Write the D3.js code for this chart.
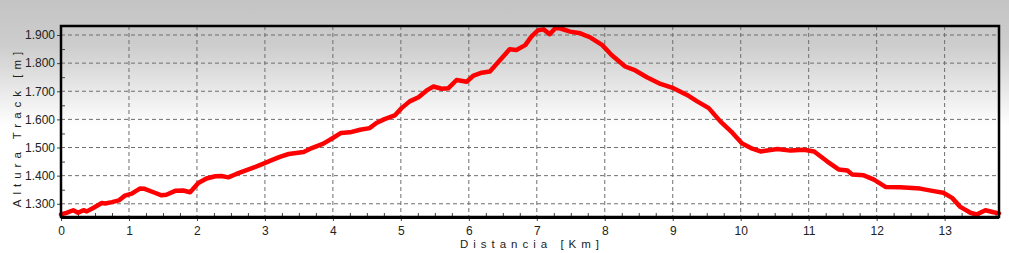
<!DOCTYPE html>
<html>
<head>
<meta charset="utf-8">
<script src="https://cdn.jsdelivr.net/npm/d3@7"></script>
<style>
  body { margin: 0; padding: 0; overflow: hidden; background: #fff; }
  text { font-family: "Liberation Sans", Arial, sans-serif; }
</style>
</head>
<body>
<div id="chart"></div>
<script>
var svgWidth = 1009;
var svgHeight = 253;

var margin = { top: 26, right: 10, bottom: 36, left: 61 };
var width = svgWidth - margin.left - margin.right;
var height = svgHeight - margin.top - margin.bottom;

// distance in km, altitude in m (read from the profile)
var distKm = [0, 0.08, 0.18, 0.25, 0.33, 0.38, 0.48, 0.6, 0.65, 0.75, 0.85, 0.94, 1.04, 1.16, 1.23,
  1.36, 1.48, 1.55, 1.68, 1.8, 1.9, 2.02, 2.14, 2.27, 2.36, 2.46, 2.58, 2.71, 2.85, 2.97, 3.1,
  3.22, 3.35, 3.57, 3.69, 3.86, 4.0, 4.12, 4.25, 4.4, 4.54, 4.64, 4.76, 4.91, 5.01, 5.13, 5.26,
  5.38, 5.48, 5.6, 5.7, 5.82, 5.97, 6.07, 6.19, 6.31, 6.46, 6.6, 6.7, 6.83, 6.92, 7.02, 7.1,
  7.19, 7.27, 7.34, 7.49, 7.64, 7.79, 7.96, 8.1, 8.3, 8.45, 8.62, 8.82, 9.01, 9.21, 9.36, 9.53,
  9.7, 9.88, 10.02, 10.15, 10.29, 10.54, 10.73, 10.93, 11.08, 11.27, 11.44, 11.57, 11.64, 11.81,
  11.96, 12.13, 12.35, 12.64, 12.84, 12.98, 13.11, 13.23, 13.38, 13.47, 13.6, 13.72, 13.8];
var altM = [1262, 1268, 1277, 1268, 1277, 1273, 1286, 1303, 1301, 1306, 1312, 1329, 1336, 1354, 1353,
  1341, 1330, 1332, 1346, 1347, 1341, 1374, 1390, 1398, 1399, 1394, 1406, 1418, 1430, 1442, 1455,
  1467, 1477, 1484, 1498, 1514, 1534, 1552, 1554, 1563, 1569, 1587, 1601, 1614, 1640, 1664, 1679,
  1703, 1717, 1709, 1711, 1740, 1734, 1756, 1766, 1770, 1811, 1849, 1847, 1864, 1894, 1917, 1920,
  1903, 1924, 1924, 1912, 1906, 1891, 1865, 1829, 1788, 1774, 1750, 1726, 1711, 1687, 1664, 1640,
  1593, 1552, 1514, 1498, 1486, 1495, 1489, 1492, 1486, 1451, 1422, 1418, 1404, 1401,
  1386, 1360, 1359, 1354, 1345, 1339, 1321, 1289, 1268, 1262, 1277, 1270, 1266];

var xTicks = [0, 1, 2, 3, 4, 5, 6, 7, 8, 9, 10, 11, 12, 13];
var yTicks = [1300, 1400, 1500, 1600, 1700, 1800, 1900];
var xTitle = "Distancia [Km]";
var yTitle = "Altura Track [m]";

var data = distKm.map(function(d, i) { return { km: d, alt: altM[i] }; });

var svg = d3.select("#chart")
  .append("svg")
  .attr("width", svgWidth)
  .attr("height", svgHeight);

var grad = svg.append("defs").append("linearGradient")
  .attr("id", "bg")
  .attr("x1", 0).attr("y1", 0).attr("x2", 0).attr("y2", 1);
grad.append("stop").attr("offset", "0%").attr("stop-color", "#c4c4c4");
grad.append("stop").attr("offset", "18%").attr("stop-color", "#cdcdcd");
grad.append("stop").attr("offset", "50%").attr("stop-color", "#ffffff");
grad.append("stop").attr("offset", "100%").attr("stop-color", "#ffffff");

svg.append("rect")
  .attr("width", svgWidth)
  .attr("height", svgHeight)
  .attr("fill", "url(#bg)");

var chartGroup = svg.append("g")
  .attr("transform", `translate(${margin.left}, ${margin.top})`);

var xLinearScale = d3.scaleLinear().domain([0, 13.8]).range([0, width]);
var yLinearScale = d3.scaleLinear().domain([1253, 1932]).range([height, 0]);

var locale = d3.formatLocale({ decimal: ",", thousands: ".", grouping: [3], currency: ["", ""] });
var fmt = locale.format(",d");

// grid
chartGroup.append("g")
  .selectAll("line")
  .data(xTicks.slice(1))
  .enter()
  .append("line")
  .attr("x1", d => xLinearScale(d)).attr("x2", d => xLinearScale(d))
  .attr("y1", 0).attr("y2", height)
  .attr("stroke", "#6e6e6e").attr("stroke-dasharray", "4,3");

chartGroup.append("g")
  .selectAll("line")
  .data(yTicks)
  .enter()
  .append("line")
  .attr("y1", d => yLinearScale(d)).attr("y2", d => yLinearScale(d))
  .attr("x1", 0).attr("x2", width)
  .attr("stroke", "#6e6e6e").attr("stroke-dasharray", "4,3");

// minor ticks inside the plot
var xMinor = d3.range(0, 13.8, 0.25).filter(d => d % 1 !== 0);
chartGroup.append("g")
  .attr("transform", `translate(0, ${height})`)
  .call(d3.axisBottom(xLinearScale).tickValues(xMinor).tickSize(-4).tickFormat(""))
  .call(g => g.select(".domain").remove())
  .call(g => g.selectAll("line").attr("stroke", "#444"));

var yMinor = d3.range(1300, 1932, 50).filter(d => d % 100 !== 0);
chartGroup.append("g")
  .call(d3.axisLeft(yLinearScale).tickValues(yMinor).tickSize(-4).tickFormat(""))
  .call(g => g.select(".domain").remove())
  .call(g => g.selectAll("line").attr("stroke", "#444"));

// major axes
var bottomAxis = d3.axisBottom(xLinearScale).tickValues(xTicks).tickSize(4).tickPadding(5).tickFormat(d3.format("d"));
var leftAxis = d3.axisLeft(yLinearScale).tickValues(yTicks).tickSize(4).tickPadding(2).tickFormat(fmt);

chartGroup.append("g")
  .attr("transform", `translate(0, ${height})`)
  .call(bottomAxis)
  .call(g => g.select(".domain").remove())
  .call(g => g.selectAll("line").attr("stroke", "#444"))
  .call(g => g.selectAll("text").attr("font-size", "12px").attr("fill", "#222")
    .style("font-family", "'Liberation Sans', Arial, sans-serif"));

chartGroup.append("g")
  .call(leftAxis)
  .call(g => g.select(".domain").remove())
  .call(g => g.selectAll("line").attr("stroke", "#444"))
  .call(g => g.selectAll("text").attr("font-size", "12px").attr("fill", "#222")
    .style("font-family", "'Liberation Sans', Arial, sans-serif"));

// profile line
var line = d3.line()
  .x(d => xLinearScale(d.km))
  .y(d => yLinearScale(d.alt));

chartGroup.append("path")
  .datum(data)
  .attr("d", line)
  .attr("fill", "none")
  .attr("stroke", "#ff0000")
  .attr("stroke-width", 4.5)
  .attr("stroke-linejoin", "round")
  .attr("stroke-linecap", "round");

// frame
chartGroup.append("rect")
  .attr("x", 0).attr("y", 0)
  .attr("width", width).attr("height", height)
  .attr("fill", "none")
  .attr("stroke", "#000")
  .attr("stroke-width", 2.5);

chartGroup.append("line")
  .attr("x1", 0).attr("x2", width)
  .attr("y1", height + 0.5).attr("y2", height + 0.5)
  .attr("stroke", "#000").attr("stroke-width", 3);

// titles
svg.append("text")
  .attr("x", margin.left + width / 2 + 2)
  .attr("y", 248)
  .attr("text-anchor", "middle")
  .attr("font-size", "11.5px")
  .attr("fill", "#222")
  .attr("letter-spacing", "5px")
  .text(xTitle);

svg.append("text")
  .attr("transform", `translate(21, ${margin.top + 101}) rotate(-90)`)
  .attr("text-anchor", "middle")
  .attr("font-size", "11.5px")
  .attr("fill", "#222")
  .attr("letter-spacing", "5px")
  .text(yTitle);
</script>
</body>
</html>
